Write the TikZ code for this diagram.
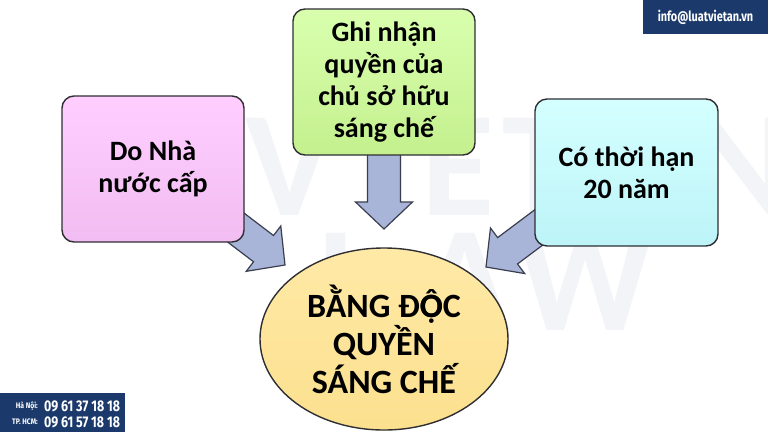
\documentclass[tikz,border=0pt]{standalone}
\usepackage{fontspec}
\setmainfont{Carlito}
\newfontfamily\infofont{Fira Sans}
\usetikzlibrary{shapes.geometric,calc,backgrounds}
% Carlito draws U+1ED8 without its circumflex: stack the two letters
\newcommand{\OHatDot}{{\ooalign{Ọ\cr Ô}}}

\definecolor{navy}{HTML}{1B3A6B}
\definecolor{boxline}{HTML}{2E2E33}
\definecolor{arrline}{HTML}{3A3E4E}
\definecolor{arrfill}{HTML}{A8B4D8}
\definecolor{pinkT}{HTML}{FFCEFF}
\definecolor{pinkB}{HTML}{F2BDF2}
\definecolor{greenT}{HTML}{D9FFAE}
\definecolor{greenB}{HTML}{C4F08E}
\definecolor{cyanT}{HTML}{D4FFFF}
\definecolor{cyanB}{HTML}{BDF4F8}
\definecolor{goldT}{HTML}{FFE9A6}
\definecolor{goldB}{HTML}{FBE08E}
\definecolor{wmgray}{HTML}{F2F4F7}

\tikzset{
  infobox/.style={draw=boxline, line width=1.4pt, rounded corners=12pt,
    minimum width=182pt, minimum height=146pt, inner sep=0pt, align=center,
    font=\fontsize{28}{32}\selectfont\bfseries},
  fatarrow/.style={draw=arrline, line width=1.2pt, fill=arrfill, line join=miter,
    to path={
      ($(\tikztostart)!16.5pt!90:(\tikztotarget)$)
      -- ($(\tikztotarget)!27pt!(\tikztostart)!16.5pt!-90:(\tikztostart)$)
      -- ($(\tikztotarget)!27pt!(\tikztostart)!28.5pt!-90:(\tikztostart)$)
      -- (\tikztotarget)
      -- ($(\tikztotarget)!27pt!(\tikztostart)!28.5pt!90:(\tikztostart)$)
      -- ($(\tikztotarget)!27pt!(\tikztostart)!16.5pt!90:(\tikztostart)$)
      -- ($(\tikztostart)!16.5pt!-90:(\tikztotarget)$)
      -- cycle}},
  wmark/.style={text=wmgray, font=\fontsize{150}{150}\selectfont\bfseries, inner sep=0pt, anchor=base},
  corner/.style={fill=navy, text=white, inner sep=0pt,
    font=\infofont\bfseries}
}

\begin{document}
\begin{tikzpicture}[x=1pt, y=-1pt]
\useasboundingbox (0,0) rectangle (768,432);

% the three facts
\node (nhanuoc)[infobox, top color=pinkT, bottom color=pinkB] at (153,169) {Do Nhà\\nước cấp};
\node (ghinhan)[infobox, top color=greenT, bottom color=greenB] at (384,82) {Ghi nhận\\quyền của\\chủ sở hữu\\sáng chế};
\node (thoihan)[infobox, top color=cyanT, bottom color=cyanB, minimum width=183pt, minimum height=147pt] at (626.5,172.5) {Có thời hạn\\20 năm};

% the patent
\node (bang)[ellipse, draw=boxline, line width=1.4pt, top color=goldT, bottom color=goldB,
  minimum width=248pt, minimum height=182pt, inner sep=0pt, align=center,
  font=\fontsize{34}{38}\selectfont\bfseries] at (384,339) {BẰNG Đ\OHatDot C\\QUYỀN\\SÁNG CHẾ};

\coordinate (tipL) at (285,265);
\coordinate (tipG) at (384,229);
\coordinate (tipC) at (486,267);

\begin{scope}[on background layer]
  \foreach \ch/\xx [count=\i] in {V/290, I/392, E/458, T/540, A/648, N/742}
    \node (wmtop\i)[wmark] at (\xx,215) {\ch};
  \foreach \ch/\xx [count=\i] in {L/350, A/465, W/585}
    \node (wmbot\i)[wmark] at (\xx,330) {\ch};
  \path[fatarrow] ([shift={(-31,-32)}]nhanuoc.south east) to (tipL);
  \path[fatarrow] ([yshift=8pt]ghinhan.south) to (tipG);
  \path[fatarrow] ([shift={(20,-31)}]thoihan.south west) to (tipC);
\end{scope}

% contact corners
\node (mail)[corner, minimum width=125pt, minimum height=34pt] at (705.5,17)
  {\fontsize{14}{15}\selectfont\scalebox{0.78}[1]{info@luatvietan.vn}};
\node (hotline)[corner, minimum width=125pt, minimum height=39pt] at (62.5,412.5) {};
\node (hnlab)[corner, anchor=east] at (38,406) {\fontsize{8}{9}\selectfont\scalebox{0.85}[1]{Hà Nội:}};
\node (hnnum)[corner, anchor=west] at (44,406) {\fontsize{15.5}{16}\selectfont\scalebox{0.8}[1]{09 61 37 18 18}};
\node (hcmlab)[corner, anchor=east] at (38,422) {\fontsize{8}{9}\selectfont\scalebox{0.85}[1]{TP. HCM:}};
\node (hcmnum)[corner, anchor=west] at (44,422) {\fontsize{15.5}{16}\selectfont\scalebox{0.8}[1]{09 61 57 18 18}};
\end{tikzpicture}
\end{document}
